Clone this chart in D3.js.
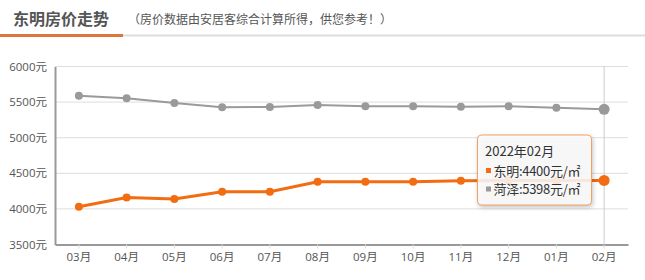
<!DOCTYPE html>
<html>
<head>
<meta charset="utf-8">
<script src="https://cdn.jsdelivr.net/npm/d3@7/dist/d3.min.js"></script>
<style>
  body { margin: 0; background: #fff; font-family: "Noto Sans CJK SC", "Open Sans", sans-serif; }
  svg { display: block; }
</style>
</head>
<body>
<svg id="chart" width="645" height="280"></svg>
<script>
// months shown on the x axis
const months = ['03月', '04月', '05月', '06月', '07月', '08月', '09月', '10月', '11月', '12月', '01月', '02月'];
// 东明 average price, 元/㎡
const dongming = [4030, 4160, 4140, 4240, 4240, 4380, 4380, 4380, 4395, 4400, 4400, 4400];
// 菏泽 average price, 元/㎡
const heze = [5590, 5555, 5488, 5428, 5432, 5460, 5443, 5443, 5435, 5443, 5420, 5398];
const yTicks = [3500, 4000, 4500, 5000, 5500, 6000];

const orange = '#f26c12', grey = '#9a9a9a';
const svg = d3.select('#chart');

// header
svg.append('text').attr('x', 13).attr('y', 25)
    .attr('font-size', 16).attr('font-weight', 'bold').attr('fill', '#555')
    .text('东明房价走势');
svg.append('text').attr('x', 128).attr('y', 24)
    .attr('font-size', 12).attr('fill', '#555')
    .text('（房价数据由安居客综合计算所得，供您参考！）');
svg.append('rect').attr('x', 0).attr('y', 34.5).attr('width', 645).attr('height', 2).attr('fill', '#ddd');
svg.append('rect').attr('x', 0).attr('y', 34).attr('width', 123).attr('height', 3).attr('fill', '#d9773f');

// scales
let x = d3.scaleBand().domain(months).range([55, 628]);
let y = d3.scaleLinear().domain([3500, 6000]).range([244.5, 66.5]);
let cx = d => x(d) + x.bandwidth() / 2;

// grid lines
svg.append('g').selectAll('line')
    .data(yTicks.slice(1))
    .enter().append('line')
    .attr('x1', 55).attr('x2', 628)
    .attr('y1', d => y(d)).attr('y2', d => y(d))
    .attr('stroke', '#ddd').attr('stroke-width', 1);

// y axis
let yAxis = svg.append('g').attr('transform', 'translate(55,0)')
    .call(d3.axisLeft(y).tickValues(yTicks).tickSize(0).tickPadding(8).tickFormat(d => d + '元'));
yAxis.select('.domain').attr('stroke', '#999').attr('stroke-width', 2);
yAxis.selectAll('text').attr('font-size', 11.5).attr('fill', '#555')
    .attr('font-family', '"Open Sans", "Noto Sans CJK SC", sans-serif');

// axis pointer at last month
svg.append('line')
    .attr('x1', cx(months[11])).attr('x2', cx(months[11]))
    .attr('y1', 66).attr('y2', 244.5)
    .attr('stroke', '#ccc').attr('stroke-width', 1);

// x axis
let xAxis = svg.append('g').attr('transform', 'translate(0,244.5)')
    .call(d3.axisBottom(x).tickSize(4).tickSizeOuter(0).tickPadding(4));
xAxis.select('.domain').attr('stroke', '#999').attr('stroke-width', 2);
xAxis.selectAll('.tick line').attr('stroke', '#ddd');
xAxis.selectAll('text').attr('font-size', 11.5).attr('fill', '#555')
    .attr('font-family', '"Open Sans", "Noto Sans CJK SC", sans-serif');

// series
function drawSeries(values, color, width) {
  let line = d3.line().x((d, i) => cx(months[i])).y(d => y(d));
  let g = svg.append('g');
  g.append('path').datum(values)
      .attr('d', line)
      .attr('fill', 'none')
      .attr('stroke', color)
      .attr('stroke-width', width);
  g.selectAll('circle')
      .data(values)
      .enter().append('circle')
      .attr('cx', (d, i) => cx(months[i]))
      .attr('cy', d => y(d))
      .attr('r', (d, i) => i === values.length - 1 ? 5.5 : 4)
      .attr('fill', color);
}
drawSeries(heze, grey, 2);
drawSeries(dongming, orange, 3);

// tooltip
let tip = svg.append('g').attr('transform', 'translate(477.5,135)');
tip.append('rect').attr('width', 114).attr('height', 70).attr('rx', 4)
    .attr('fill', 'rgba(255,255,255,0.85)').attr('stroke', '#f0a060').attr('stroke-width', 1)
    .style('filter', 'drop-shadow(1px 2px 2px rgba(0,0,0,0.25))');
tip.append('text').attr('x', 7.5).attr('y', 21).attr('font-size', 13).attr('fill', '#333')
    .text('2022年' + months[11]);
[[dongming, orange, '东明'], [heze, grey, '菏泽']].forEach(function (s, i) {
  tip.append('rect').attr('x', 8.5).attr('y', 33 + i * 18.5).attr('width', 5).attr('height', 5).attr('fill', s[1]);
  tip.append('text').attr('x', 16).attr('y', 40.5 + i * 18.5).attr('font-size', 13).attr('fill', '#333')
      .attr('textLength', 87).attr('lengthAdjust', 'spacing')
      .text(s[2] + ':' + s[0][11] + '元/㎡');
});
</script>
</body>
</html>
